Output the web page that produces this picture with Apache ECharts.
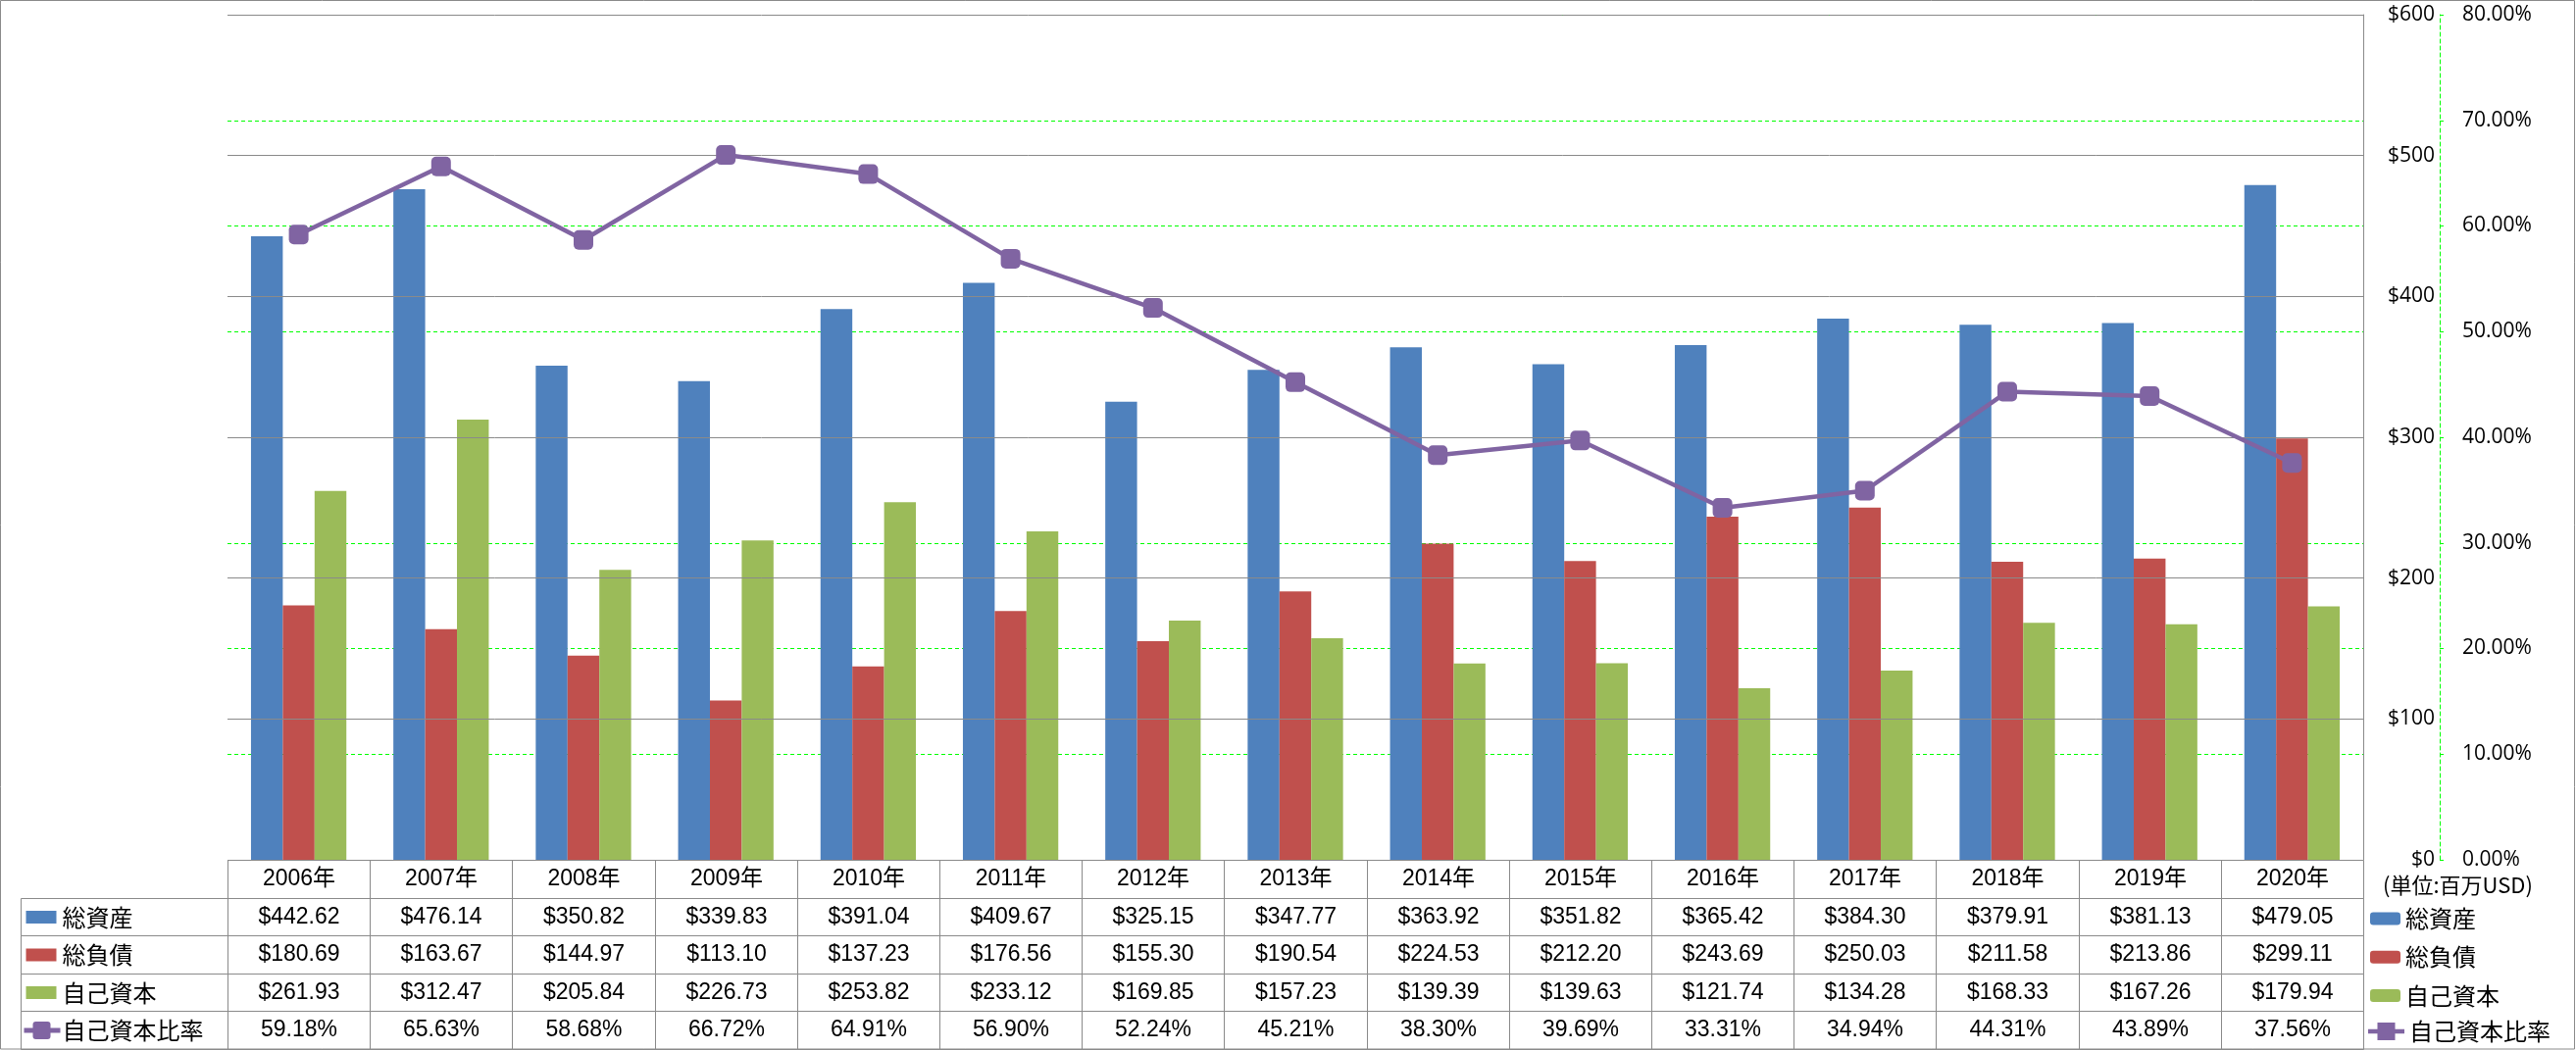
<!DOCTYPE html>
<html>
<head>
<meta charset="utf-8">
<script src="https://cdn.jsdelivr.net/npm/echarts@6/dist/echarts.min.js"></script>
<style>
html,body{margin:0;padding:0;background:#fff;}
#chart{width:2627px;height:1071px;}
</style>
</head>
<body>
<div id="chart"></div>
<script>
// ---- data ----
const years = ['2006年','2007年','2008年','2009年','2010年','2011年','2012年','2013年','2014年','2015年','2016年','2017年','2018年','2019年','2020年'];
const totalAssets = [442.62, 476.14, 350.82, 339.83, 391.04, 409.67, 325.15, 347.77, 363.92, 351.82, 365.42, 384.30, 379.91, 381.13, 479.05];
const totalLiabilities = [180.69, 163.67, 144.97, 113.10, 137.23, 176.56, 155.30, 190.54, 224.53, 212.20, 243.69, 250.03, 211.58, 213.86, 299.11];
const equity = [261.93, 312.47, 205.84, 226.73, 253.82, 233.12, 169.85, 157.23, 139.39, 139.63, 121.74, 134.28, 168.33, 167.26, 179.94];
const equityRatio = [59.18, 65.63, 58.68, 66.72, 64.91, 56.90, 52.24, 45.21, 38.30, 39.69, 33.31, 34.94, 44.31, 43.89, 37.56];
const seriesNames = ['総資産', '総負債', '自己資本', '自己資本比率'];
const unitLabel = '(単位:百万USD)';
const dollarMin = 0, dollarMax = 600, dollarStep = 100;
const pctMin = 0, pctMax = 80, pctStep = 10;

// ---- styles / layout ----
const colors = ['#4F81BD', '#C0504D', '#9BBB59', '#8064A2'];
const W = 2627, H = 1071;
const plotLeft = 232, plotRight = 2410, plotTop = 15, plotBottom = 877;
const tableLeft = 21, tableBottom = 1070;
const colW = (plotRight - plotLeft) / years.length;
const headMin = -(plotLeft - tableLeft) / colW;
const gridColor = '#8a8a8a';
const green = '#00FF00';
const numFont = '23px "Liberation Sans", "Noto Sans CJK JP", sans-serif';
const cjkFont = '24px "Noto Sans CJK JP", sans-serif';
const axisFontFamily = '"Open Sans", "Liberation Sans", sans-serif';
const lineIconPath = 'path://M0,7.75L9.5,7.75L9.5,1L27.5,1L27.5,7.75L37,7.75L37,12.25L27.5,12.25L27.5,19L9.5,19L9.5,12.25L0,12.25Z';

// ---- table cells built from data ----
const rowsData = [totalAssets, totalLiabilities, equity];
const cells = [];
years.forEach((y, i) => cells.push({x0: i, x1: i + 1, row: 0, text: y, kind: 'val'}));
rowsData.forEach((arr, r) => {
  cells.push({x0: headMin, x1: 0, row: r + 1, text: seriesNames[r], kind: 'head', icon: 'bar', color: colors[r]});
  arr.forEach((v, i) => cells.push({x0: i, x1: i + 1, row: r + 1, text: '$' + v.toFixed(2), kind: 'val'}));
});
cells.push({x0: headMin, x1: 0, row: 4, text: seriesNames[3], kind: 'head', icon: 'line', color: colors[3]});
equityRatio.forEach((v, i) => cells.push({x0: i, x1: i + 1, row: 4, text: v.toFixed(2) + '%', kind: 'val'}));

function renderCell(params, api) {
  const c = cells[params.dataIndex];
  const p0 = api.coord([c.x0, c.row]);
  const p1 = api.coord([c.x1, c.row + 1]);
  const x = Math.round(p0[0]) + 0.5;
  const y = Math.round(Math.min(p0[1], p1[1])) + 0.5;
  const w = Math.round(p1[0]) - Math.round(p0[0]);
  const h = Math.round(Math.max(p0[1], p1[1])) - Math.round(Math.min(p0[1], p1[1]));
  const children = [{
    type: 'rect', shape: {x: x, y: y, width: w, height: h},
    style: {fill: 'none', stroke: gridColor, lineWidth: 1}
  }];
  const cy = y + h / 2;
  if (c.kind === 'head') {
    if (c.icon === 'bar') {
      children.push({type: 'rect', shape: {x: x + 5, y: cy - 6.5, width: 31, height: 13}, style: {fill: c.color}});
    } else {
      children.push({type: 'line', shape: {x1: x + 3, y1: cy, x2: x + 40, y2: cy}, style: {stroke: c.color, lineWidth: 5}});
      children.push({type: 'rect', shape: {x: x + 12, y: cy - 9, width: 18, height: 18, r: 3}, style: {fill: c.color}});
    }
    children.push({type: 'text', style: {text: c.text, x: x + 42, y: cy, font: cjkFont, fill: '#000',
      textAlign: 'left', textVerticalAlign: 'middle', align: 'left', verticalAlign: 'middle'}});
  } else {
    children.push({type: 'text', style: {text: c.text, x: x + w / 2, y: cy, font: numFont, fill: '#000',
      textAlign: 'center', textVerticalAlign: 'middle', align: 'center', verticalAlign: 'middle'}});
  }
  return {type: 'group', children: children};
}

const legendText = {fontFamily: '"Noto Sans CJK JP", sans-serif', fontSize: 24, lineHeight: 23, color: '#000'};

const chart = echarts.init(document.getElementById('chart'), null, {renderer: 'canvas'});
const option = {
  animation: false,
  backgroundColor: '#fff',
  title: {
    text: unitLabel, left: 2430, top: 892, padding: 0,
    textStyle: {fontFamily: '"Noto Sans CJK JP", sans-serif', fontSize: 22, fontWeight: 'normal', color: '#000'}
  },
  legend: [
    {data: seriesNames.slice(0, 3), orient: 'vertical', left: 2417, top: 925, padding: 0,
     itemWidth: 31, itemHeight: 13, itemGap: 15.3, textStyle: legendText},
    {data: [{name: seriesNames[3], icon: lineIconPath}], orient: 'vertical', left: 2415, top: 1040, padding: 0,
     itemWidth: 37, itemHeight: 20, textStyle: Object.assign({}, legendText, {lineHeight: 20}),
     itemStyle: {color: colors[3]}}
  ],
  graphic: [{
    type: 'rect', shape: {x: 0.5, y: 0.5, width: W - 2, height: tableBottom - 0.5},
    style: {fill: 'none', stroke: gridColor, lineWidth: 1}, silent: true, z: 100
  }],
  grid: [
    {left: plotLeft, right: W - plotRight, top: plotTop, bottom: H - plotBottom, containLabel: false},
    {left: tableLeft, right: W - plotRight, top: plotBottom, bottom: H - tableBottom, containLabel: false}
  ],
  xAxis: [
    {type: 'category', gridIndex: 0, data: years, boundaryGap: true,
     axisLine: {show: false}, axisTick: {show: false}, axisLabel: {show: false}, splitLine: {show: false}},
    {type: 'value', gridIndex: 1, min: headMin, max: years.length, show: false}
  ],
  yAxis: [
    {type: 'value', gridIndex: 0, position: 'right', min: dollarMin, max: dollarMax, interval: dollarStep,
     axisLine: {show: true, lineStyle: {color: gridColor, width: 1}},
     axisTick: {show: false},
     axisLabel: {margin: 73, align: 'right', color: '#000', fontFamily: axisFontFamily, fontSize: 21,
       formatter: v => '$' + v},
     splitLine: {show: true, lineStyle: {color: gridColor, width: 1}}, z: 3},
    {type: 'value', gridIndex: 0, position: 'right', offset: 78, min: pctMin, max: pctMax, interval: pctStep,
     axisLine: {show: true, lineStyle: {color: green, width: 1, type: [4, 3]}},
     axisTick: {show: true, inside: false, length: 4, lineStyle: {color: green, width: 1}},
     axisLabel: {margin: 23, color: '#000', fontFamily: axisFontFamily, fontSize: 21,
       formatter: v => v.toFixed(2) + '%'},
     splitLine: {show: true, lineStyle: {color: green, width: 1, type: [4, 3]}}},
    {type: 'value', gridIndex: 1, min: 0, max: 5, inverse: true, show: false}
  ],
  series: [
    {name: seriesNames[0], type: 'bar', xAxisIndex: 0, yAxisIndex: 0, data: totalAssets,
     itemStyle: {color: colors[0]}, barGap: '0%', barCategoryGap: '33%'},
    {name: seriesNames[1], type: 'bar', xAxisIndex: 0, yAxisIndex: 0, data: totalLiabilities,
     itemStyle: {color: colors[1]}, barGap: '0%', barCategoryGap: '33%'},
    {name: seriesNames[2], type: 'bar', xAxisIndex: 0, yAxisIndex: 0, data: equity,
     itemStyle: {color: colors[2]}, barGap: '0%', barCategoryGap: '33%'},
    {name: seriesNames[3], type: 'line', xAxisIndex: 0, yAxisIndex: 1, data: equityRatio,
     lineStyle: {color: colors[3], width: 4.5}, itemStyle: {color: colors[3]},
     symbol: 'roundRect', symbolSize: 20, z: 5},
    {type: 'custom', xAxisIndex: 1, yAxisIndex: 2, coordinateSystem: 'cartesian2d', clip: false,
     data: cells.map(c => [c.x0, c.x1, c.row]), renderItem: renderCell, silent: true,
     encode: {x: [0, 1], y: 2}}
  ]
};
chart.setOption(option);
</script>
</body>
</html>
